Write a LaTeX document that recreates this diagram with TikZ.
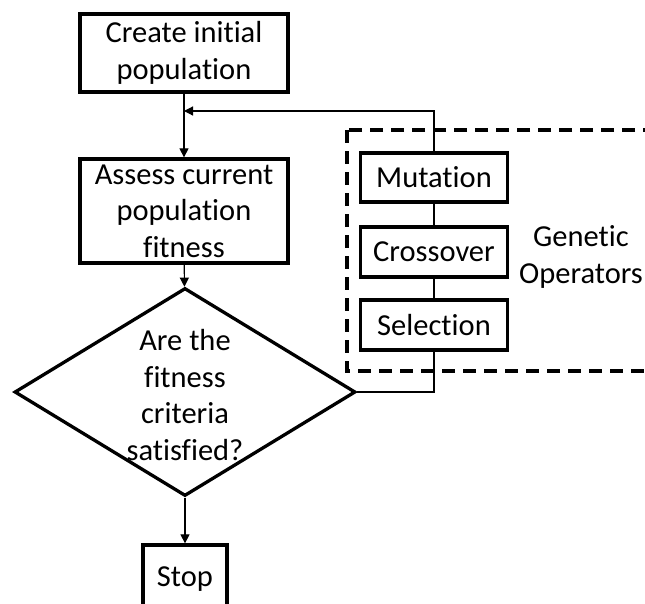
\documentclass[tikz,border=0pt]{standalone}
\usepackage{fontspec}
\setmainfont{Carlito}[Ligatures=NoCommon]
\usetikzlibrary{arrows.meta}
\usetikzlibrary{shapes.geometric}

\tikzset{
  procbox/.style={rectangle, draw=black, line width=3.3pt, fill=white, inner sep=0pt, align=center},
  decision/.style={diamond, draw=black, line width=3.3pt, fill=white, inner sep=0pt,
    minimum width=341pt, minimum height=208pt},
  link/.style={draw=black, line width=1.2pt},
  flowarrow/.style={link, -{Triangle[length=9pt, width=9pt]}},
  opsframe/.style={draw=black, line width=3.3pt, dash pattern=on 13pt off 8pt},
}

\begin{document}
\begin{tikzpicture}[x=1pt, y=-1pt, font=\fontsize{30.5}{36.5}\selectfont]
\useasboundingbox (0,0) rectangle (645,603);
\clip (0,0) rectangle (645,603);
% dashed frame round the operators
\draw [opsframe] (347,130) rectangle (670,371);
% main flow
\node [procbox, minimum width=208pt, minimum height=78pt] (create) at (184, 53) {Create initial\\population};
\node [procbox, minimum width=208pt, minimum height=104pt] (assess) at (184, 211) {Assess current\\population\\fitness};
\node [decision] (check) at (185, 392) {};
\node [align=center, inner sep=0pt] (checktext) at (185, 395) {Are the\\fitness\\criteria\\satisfied?};
\node [procbox, minimum width=84pt, minimum height=68pt] (stop) at (185, 579) {Stop};
\coordinate (join) at (184, 111);
% genetic operators
\node [procbox, minimum width=147pt, minimum height=49pt] (mutation) at (434, 177.5) {Mutation};
\node [procbox, minimum width=147pt, minimum height=50pt] (crossover) at (434, 252) {Crossover};
\node [procbox, minimum width=147pt, minimum height=50pt] (selection) at (434, 325) {Selection};
\node [align=center, inner sep=0pt] (genetic) at (581, 257) {Genetic\\Operators};
% connectors
\draw [flowarrow] (create) to (assess);
\draw [flowarrow] (assess) to (check);
\draw [flowarrow] (check) to (stop);
\draw [link] (selection.south) |- (check.east);
\draw [link] (selection) to (crossover);
\draw [link] (crossover) to (mutation);
\draw [flowarrow] (mutation.north) |- (join);
\end{tikzpicture}
\end{document}
